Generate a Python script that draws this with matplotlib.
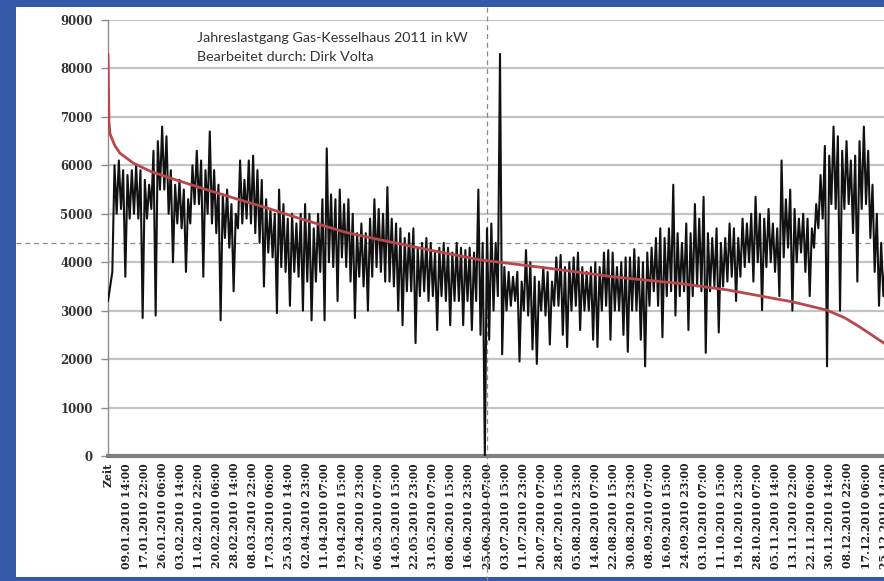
"""
    Jahreslastgang Gas-Kesselhaus mit Jahresdauerlinie.
    Stundenwerte als Kategorieachse (8760 Kategorien), Beschriftung alle 200 h.
"""

# .----------------------------------------------------------------------------.
# Import libraries to use.

import numpy as np
import matplotlib
matplotlib.use('Agg')
import matplotlib.pyplot as plt
from matplotlib.patches import Rectangle

# .----------------------------------------------------------------------------.
# Data.

# Category labels of the x axis, one every 200 hours.
zeit_labels = ['Zeit', '09.01.2010 14:00', '17.01.2010 22:00', '26.01.2010 06:00',
               '03.02.2010 14:00', '11.02.2010 22:00', '20.02.2010 06:00',
               '28.02.2010 14:00', '08.03.2010 22:00', '17.03.2010 06:00',
               '25.03.2010 14:00', '02.04.2010 23:00', '11.04.2010 07:00',
               '19.04.2010 15:00', '27.04.2010 23:00', '06.05.2010 07:00',
               '14.05.2010 15:00', '22.05.2010 23:00', '31.05.2010 07:00',
               '08.06.2010 15:00', '16.06.2010 23:00', '25.06.2010 07:00',
               '03.07.2010 15:00', '11.07.2010 23:00', '20.07.2010 07:00',
               '28.07.2010 15:00', '05.08.2010 23:00', '14.08.2010 07:00',
               '22.08.2010 15:00', '30.08.2010 23:00', '08.09.2010 07:00',
               '16.09.2010 15:00', '24.09.2010 23:00', '03.10.2010 07:00',
               '11.10.2010 15:00', '19.10.2010 23:00', '28.10.2010 07:00',
               '05.11.2010 14:00', '13.11.2010 22:00', '22.11.2010 06:00',
               '30.11.2010 14:00', '08.12.2010 22:00', '17.12.2010 06:00',
               '25.12.2010 14:00']
label_step = 200     # hours between two labels

# Load profile in kW, low and high value for every 2-day block.
last_lo = [3200, 3800, 5000, 5100, 3700, 4900, 5000, 4900, 2850, 4900,
           5100, 2900, 5500, 5500, 5000, 4000, 4800, 4700, 3800, 4800,
           5200, 5200, 3700, 5000, 4800, 4600, 2800, 4500, 4300, 3400,
           4700, 4800, 4900, 4800, 4600, 4400, 3500, 4200, 4100, 2950,
           3900, 3800, 3100, 3800, 3700, 3000, 3600, 2800, 3600, 3800,
           2800, 4000, 3900, 3200, 4100, 3900, 3600, 2850, 3700, 3500,
           3000, 3700, 3900, 3800, 3600, 3600, 3500, 3000, 2700, 3400,
           3400, 2330, 3300, 3400, 3200, 3300, 2600, 3300, 3200, 2700,
           3200, 3200, 2700, 3200, 2600, 3200, 2500, 0, 2400, 3000,
           3300, 2100, 3000, 3100, 3200, 1950, 3000, 2900, 2200, 1900,
           3000, 2900, 2300, 3100, 3100, 2500, 2250, 3000, 3100, 2600,
           3000, 3000, 2400, 2250, 3000, 3100, 2400, 3000, 3000, 2500,
           2150, 3000, 3000, 2400, 1850, 3100, 3400, 3100, 2450, 3300,
           3400, 2900, 3300, 3400, 2600, 3300, 3500, 3400, 2130, 3400,
           3500, 2550, 3500, 3600, 3700, 3200, 3700, 3900, 4000, 3600,
           4000, 3010, 3900, 4000, 3800, 3300, 4100, 4300, 3000, 4000,
           4200, 3800, 3300, 4300, 4700, 4900, 1850, 5200, 5100, 3000,
           5100, 5200, 4600, 3600, 5100, 5200, 4500, 3800, 3100, 3300,
           3500, 3800, 4000]
last_hi = [3500, 6000, 6100, 5900, 5800, 5900, 6000, 5900, 5700, 5600,
           6300, 6500, 6800, 6600, 5900, 5600, 5700, 5500, 5300, 6000,
           6300, 6100, 5900, 6700, 5900, 5600, 5400, 5500, 5200, 5000,
           6100, 5700, 6100, 6200, 5900, 5700, 5300, 5100, 5000, 5500,
           5200, 4900, 5000, 4800, 5000, 5200, 5000, 4700, 5000, 5300,
           6350, 5400, 5300, 5500, 5200, 5300, 5000, 4600, 4800, 4600,
           4900, 5300, 5100, 5000, 5550, 4900, 4800, 4700, 4500, 4600,
           4700, 4300, 4400, 4500, 4400, 4200, 4300, 4400, 4300, 4200,
           4400, 4300, 4250, 4300, 4200, 5500, 4400, 4700, 4800, 4400,
           8300, 3900, 3800, 3700, 3800, 3600, 4250, 4000, 3700, 3600,
           3900, 3800, 3600, 4100, 4150, 3900, 4000, 4100, 4200, 3900,
           3800, 3900, 4000, 3900, 4200, 4250, 4200, 3900, 4000, 4100,
           4100, 4270, 4100, 4000, 4200, 4300, 4500, 4700, 4500, 4700,
           5600, 4600, 4400, 4800, 4600, 5200, 4900, 5350, 4600, 4500,
           4700, 4400, 4500, 4800, 4700, 4500, 4900, 4800, 5000, 5350,
           5000, 4900, 5100, 4800, 4700, 6100, 5300, 5500, 5100, 4900,
           5000, 4900, 4700, 5200, 5800, 6400, 6200, 6800, 6600, 6300,
           6500, 6100, 6200, 6500, 6800, 6300, 5600, 5000, 4400, 4000,
           4500, 4800, 5000]
block_hours = 48

# Jahresdauerlinie (sorted load), hour index and kW.
dauer_h = [0, 11, 22, 44, 78, 133, 277, 465, 654, 1019, 1385, 1762, 2128,
           2648, 3125, 3568, 4122, 4865, 5596, 6339, 6859, 7591, 7968,
           8167, 8333, 8599, 8760]
dauer_kw = [8300, 6900, 6650, 6550, 6400, 6250, 6050, 5880, 5760, 5540,
            5330, 5120, 4900, 4610, 4420, 4250, 4050, 3880, 3700, 3560,
            3430, 3180, 3010, 2850, 2660, 2330, 2100]

# Position of the cursor cross (hour, kW).
cursor_h = 4200
cursor_kw = 4400

title_lines = ['Jahreslastgang Gas-Kesselhaus 2011 in kW',
               'Bearbeitet durch: Dirk Volta']

# .----------------------------------------------------------------------------.

def main():
    W, H = 884, 581
    fig = plt.figure(figsize=(W / 100, H / 100), dpi=100)
    fig.patch.set_facecolor('#3459a9')

    # White sheet behind the chart.
    fig.add_artist(Rectangle((16 / W, 4 / H), 1 - 16 / W, (574 - 4) / H,
                             transform=fig.transFigure, facecolor='white',
                             edgecolor='none', zorder=0))

    # Plot area: left 108px, bottom 456px, 0.09024 px per hour (cut off at right).
    px_h = 0.09024
    ax = fig.add_axes([108 / W, (H - 456) / H, 8760 * px_h / W, 436 / H])
    ax.set_facecolor('none')

    # Load profile: zigzag low/high every day.
    n = len(last_lo)
    xs = np.empty(2 * n)
    ys = np.empty(2 * n)
    xs[0::2] = np.arange(n) * block_hours
    xs[1::2] = np.arange(n) * block_hours + block_hours / 2
    ys[0::2] = last_lo
    ys[1::2] = last_hi
    ax.plot(xs, ys, color='#111111', lw=1.5, zorder=3)

    # Load duration curve.
    ax.plot(dauer_h, dauer_kw, color='#b8484b', lw=2.0, zorder=4,
            solid_capstyle='round')

    ax.set_xlim(0, 8760)
    ax.set_ylim(0, 9000)

    # y axis
    ax.set_yticks(np.arange(0, 9001, 1000))
    ax.yaxis.grid(True, color='#c4c4c4', lw=1.6)
    ax.set_axisbelow(True)
    ax.tick_params(axis='y', length=5, width=1, color='#8c8c8c', pad=6,
                   labelsize=8.5, labelcolor='#333333')
    for lab in ax.get_yticklabels():
        lab.set_fontfamily('DejaVu Serif')
        lab.set_fontweight('bold')

    # x axis
    ticks = np.arange(len(zeit_labels)) * label_step
    ax.set_xticks(ticks)
    ax.set_xticklabels(zeit_labels, rotation=90, family='DejaVu Serif',
                       fontsize=7.8, fontweight='bold', color='#222222')
    ax.tick_params(axis='x', length=0, pad=5)

    for side in ['top', 'right']:
        ax.spines[side].set_visible(False)
    ax.spines['left'].set_color('#8c8c8c')
    ax.spines['left'].set_linewidth(1.0)
    ax.spines['bottom'].set_color('#7f7f7f')
    ax.spines['bottom'].set_linewidth(3.0)

    # Cursor cross (dashed), reaching over the whole sheet.
    xmin = (16 - 108) / (8760 * px_h)
    ax.axhline(cursor_kw, xmin=xmin, xmax=1, color='#8a8a8a', lw=0.9,
               ls=(0, (4, 3)), clip_on=False, zorder=2)
    ax.axvline(cursor_h, ymin=(456 - 581) / 436, ymax=(456 - 7) / 436,
               color='#8a8a8a', lw=0.9, ls=(0, (4, 3)), clip_on=False, zorder=2)

    # Title text inside the plot area.
    ax.text(986, 8630, title_lines[0], family='Lato', fontsize=10.3,
            color='#333333', va='center', ha='left')
    ax.text(986, 8230, title_lines[1], family='Lato', fontsize=10.3,
            color='#333333', va='center', ha='left')

    fig.savefig('out.png', dpi=100, facecolor=fig.get_facecolor())

# .----------------------------------------------------------------------------.

if __name__ == '__main__':
    main()
